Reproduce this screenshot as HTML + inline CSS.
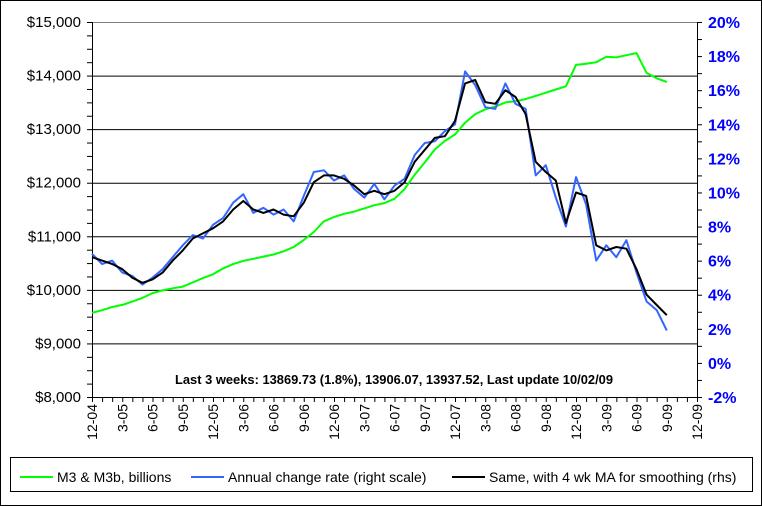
<!DOCTYPE html>
<html><head><meta charset="utf-8"><style>
body{margin:0;background:#fff}
svg{display:block;font-family:"Liberation Sans",Arial,sans-serif}
</style></head><body>
<svg id="c" width="762" height="506" viewBox="0 0 762 506">
<rect x="0.5" y="0.5" width="761" height="505" fill="#fff" stroke="#000"/>
<g id="grid"></g><g id="axes"></g><g id="series"></g>
<text x="394" y="384" font-size="13" font-weight="bold" text-anchor="middle" textLength="438" lengthAdjust="spacingAndGlyphs">Last 3 weeks: 13869.73 (1.8%), 13906.07, 13937.52, Last update 10/02/09</text>
<g>
<rect x="10.5" y="457.5" width="742" height="34" fill="#fff" stroke="#000"/>
<line x1="20" y1="477" x2="53" y2="477" stroke="#00ff00" stroke-width="2"/>
<text x="57" y="482" font-size="14">M3 &amp; M3b, billions</text>
<line x1="191" y1="477" x2="224" y2="477" stroke="#3366ff" stroke-width="2"/>
<text x="228" y="482" font-size="14">Annual change rate (right scale)</text>
<line x1="452" y1="477" x2="485" y2="477" stroke="#000" stroke-width="2"/>
<text x="489" y="482" font-size="14">Same, with 4 wk MA for smoothing (rhs)</text>
</g>
</svg>
<script>
const xLabels=["12-04","3-05","6-05","9-05","12-05","3-06","6-06","9-06","12-06","3-07","6-07","9-07","12-07","3-08","6-08","9-08","12-08","3-09","6-09","9-09","12-09"];
const leftTicks=[8000,9000,10000,11000,12000,13000,14000,15000];
const rightTicks=[-2,0,2,4,6,8,10,12,14,16,18,20];
const m3=[9570,9620,9680,9720,9780,9850,9940,9990,10030,10060,10140,10220,10290,10400,10480,10540,10580,10620,10660,10720,10800,10930,11080,11280,11360,11420,11460,11520,11580,11620,11700,11880,12150,12380,12620,12780,12900,13120,13280,13370,13420,13500,13520,13560,13620,13680,13740,13800,14200,14220,14250,14350,14340,14380,14420,14050,13950,13880];
const annual=[6.4,5.8,6.0,5.3,5.1,4.6,5.0,5.5,6.2,6.9,7.5,7.3,8.1,8.5,9.4,9.9,8.8,9.1,8.7,9.0,8.3,9.8,11.2,11.3,10.7,11.0,10.2,9.7,10.5,9.6,10.4,10.8,12.2,12.9,13.0,13.6,14.0,17.1,16.3,15.0,14.9,16.4,15.2,14.9,11.0,11.6,9.7,8.0,10.9,9.3,6.0,6.9,6.2,7.2,5.3,3.6,3.1,1.9];
const ma=[6.2,6.0,5.8,5.5,5.0,4.7,4.9,5.3,6.0,6.6,7.3,7.6,7.9,8.3,9.0,9.5,9.0,8.8,9.0,8.7,8.6,9.4,10.6,11.0,11.0,10.8,10.4,9.9,10.1,9.9,10.1,10.6,11.8,12.5,13.2,13.3,14.2,16.4,16.6,15.3,15.2,16.0,15.6,14.6,11.8,11.2,10.7,8.2,10.0,9.8,6.9,6.6,6.8,6.7,5.5,4.0,3.4,2.8];
const L=92,R=697,T=22,B=397,NS="http://www.w3.org/2000/svg";
const xm=m=>L+m*(R-L)/60;
const yL=v=>B-(v-8000)*(B-T)/7000;
const yR=p=>B-(p+2)*(B-T)/22;
function mk(t,a,p){const e=document.createElementNS(NS,t);for(const k in a)e.setAttribute(k,a[k]);p.appendChild(e);return e;}
const grid=document.getElementById('grid'),axes=document.getElementById('axes'),ser=document.getElementById('series');
leftTicks.forEach((v,i)=>{
  if(v>8000){const g=mk('line',{x1:L,x2:R,y1:yL(v)+0.5,y2:yL(v)+0.5,stroke:i==leftTicks.length-1?'#808080':'#000'},grid);
  
  }
  const t=mk('text',{x:L-11,y:yL(v)+5,'font-size':15,'text-anchor':'end'},axes);t.textContent='$'+v.toLocaleString('en-US');
  
  
});
for(let v=8000;v<=15000;v+=250)mk('line',{x1:L-5,x2:L,y1:yL(v)+0.5,y2:yL(v)+0.5,stroke:'#000'},axes);
rightTicks.forEach(p=>{
  const t=mk('text',{x:R+11,y:yR(p)+6,'font-size':16,'font-weight':'bold',fill:'#0000ff'},axes);t.textContent=p+'%';
  
  
});
for(let p=-2;p<=20;p++)mk('line',{x1:R,x2:R+5,y1:yR(p)+0.5,y2:yR(p)+0.5,stroke:'#000'},axes);
mk('line',{x1:L+0.5,x2:L+0.5,y1:T,y2:B,stroke:'#000'},axes);
mk('line',{x1:R+0.5,x2:R+0.5,y1:T,y2:B,stroke:'#000'},axes);
mk('line',{x1:L,x2:R+1,y1:B+0.5,y2:B+0.5,stroke:'#000'},axes);
for(let m=0;m<=60;m++)mk('line',{x1:xm(m)+0.5,x2:xm(m)+0.5,y1:B,y2:B+5,stroke:'#000'},axes);
xLabels.forEach((s,i)=>{
  const x=xm(i*3)+5,y=B+7;
  const t=mk('text',{x:x,y:y,'font-size':14,'text-anchor':'end',transform:`rotate(-90 ${x} ${y})`},axes);t.textContent=s;
  
  
});
function line(arr,yf,col,w,name){
  const d=arr.map((v,i)=>(i?'L':'M')+xm(i).toFixed(1)+' '+yf(v).toFixed(1)).join(' ');
  const p=mk('path',{d:d,fill:'none',stroke:col,'stroke-width':w,'stroke-linejoin':'round'},ser);
  
  
}
line(m3,yL,'#00ff00',2,'m3-line');
line(annual,yR,'#3366ff',2,'annual-change-line');
line(ma,yR,'#000',2,'ma-line');
</script>
</body></html>
